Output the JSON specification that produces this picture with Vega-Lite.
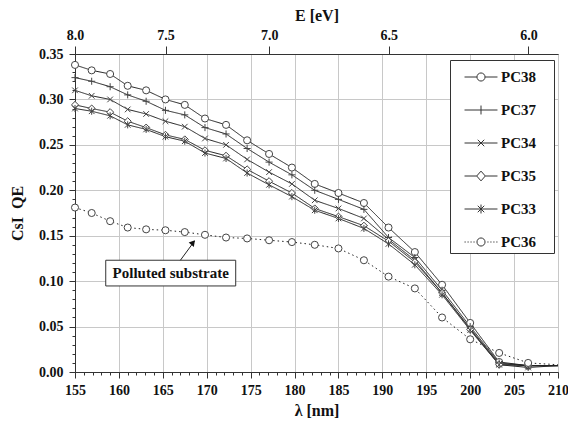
{
  "$schema": "https://vega.github.io/schema/vega-lite/v6.json",
  "width": 483,
  "height": 318,
  "autosize": "none",
  "padding": {"left": 75, "top": 54, "right": 10, "bottom": 58},
  "background": "white",
  "config": {
    "font": "Liberation Serif",
    "view": {"stroke": "#333", "strokeWidth": 1},
    "axis": {
      "labelFont": "Liberation Serif", "labelFontWeight": "bold", "labelFontSize": 14, "labelColor": "#111",
      "titleFont": "Liberation Serif", "titleFontWeight": "bold", "titleFontSize": 16, "titleColor": "#111",
      "domainColor": "#333", "tickColor": "#333", "gridColor": "#c8c8c8", "gridWidth": 1, "labelFlush": false
    }
  },
  "datasets": {
    "qe": [
      {"s":"PC38","l":155.0,"q":0.338},{"s":"PC38","l":156.9,"q":0.332},{"s":"PC38","l":159.0,"q":0.328},{"s":"PC38","l":161.0,"q":0.315},{"s":"PC38","l":163.1,"q":0.310},{"s":"PC38","l":165.3,"q":0.300},{"s":"PC38","l":167.5,"q":0.294},{"s":"PC38","l":169.8,"q":0.279},{"s":"PC38","l":172.2,"q":0.272},{"s":"PC38","l":174.6,"q":0.255},{"s":"PC38","l":177.1,"q":0.240},{"s":"PC38","l":179.7,"q":0.225},{"s":"PC38","l":182.3,"q":0.207},{"s":"PC38","l":185.0,"q":0.197},{"s":"PC38","l":187.9,"q":0.186},{"s":"PC38","l":190.7,"q":0.159},{"s":"PC38","l":193.7,"q":0.132},{"s":"PC38","l":196.8,"q":0.096},{"s":"PC38","l":200.0,"q":0.054},{"s":"PC38","l":203.3,"q":0.011},{"s":"PC38","l":206.6,"q":0.007},{"s":"PC38","l":210.0,"q":0.007},
      {"s":"PC37","l":155.0,"q":0.324},{"s":"PC37","l":156.9,"q":0.320},{"s":"PC37","l":159.0,"q":0.314},{"s":"PC37","l":161.0,"q":0.305},{"s":"PC37","l":163.1,"q":0.298},{"s":"PC37","l":165.3,"q":0.288},{"s":"PC37","l":167.5,"q":0.283},{"s":"PC37","l":169.8,"q":0.269},{"s":"PC37","l":172.2,"q":0.262},{"s":"PC37","l":174.6,"q":0.246},{"s":"PC37","l":177.1,"q":0.231},{"s":"PC37","l":179.7,"q":0.217},{"s":"PC37","l":182.3,"q":0.200},{"s":"PC37","l":185.0,"q":0.190},{"s":"PC37","l":187.9,"q":0.179},{"s":"PC37","l":190.7,"q":0.148},{"s":"PC37","l":193.7,"q":0.126},{"s":"PC37","l":196.8,"q":0.090},{"s":"PC37","l":200.0,"q":0.050},{"s":"PC37","l":203.3,"q":0.010},{"s":"PC37","l":206.6,"q":0.007},{"s":"PC37","l":210.0,"q":0.007},
      {"s":"PC34","l":155.0,"q":0.310},{"s":"PC34","l":156.9,"q":0.304},{"s":"PC34","l":159.0,"q":0.300},{"s":"PC34","l":161.0,"q":0.289},{"s":"PC34","l":163.1,"q":0.284},{"s":"PC34","l":165.3,"q":0.276},{"s":"PC34","l":167.5,"q":0.270},{"s":"PC34","l":169.8,"q":0.257},{"s":"PC34","l":172.2,"q":0.250},{"s":"PC34","l":174.6,"q":0.234},{"s":"PC34","l":177.1,"q":0.220},{"s":"PC34","l":179.7,"q":0.207},{"s":"PC34","l":182.3,"q":0.189},{"s":"PC34","l":185.0,"q":0.180},{"s":"PC34","l":187.9,"q":0.169},{"s":"PC34","l":190.7,"q":0.146},{"s":"PC34","l":193.7,"q":0.123},{"s":"PC34","l":196.8,"q":0.087},{"s":"PC34","l":200.0,"q":0.048},{"s":"PC34","l":203.3,"q":0.009},{"s":"PC34","l":206.6,"q":0.007},{"s":"PC34","l":210.0,"q":0.007},
      {"s":"PC35","l":155.0,"q":0.294},{"s":"PC35","l":156.9,"q":0.290},{"s":"PC35","l":159.0,"q":0.286},{"s":"PC35","l":161.0,"q":0.276},{"s":"PC35","l":163.1,"q":0.269},{"s":"PC35","l":165.3,"q":0.261},{"s":"PC35","l":167.5,"q":0.256},{"s":"PC35","l":169.8,"q":0.244},{"s":"PC35","l":172.2,"q":0.238},{"s":"PC35","l":174.6,"q":0.223},{"s":"PC35","l":177.1,"q":0.210},{"s":"PC35","l":179.7,"q":0.197},{"s":"PC35","l":182.3,"q":0.180},{"s":"PC35","l":185.0,"q":0.171},{"s":"PC35","l":187.9,"q":0.161},{"s":"PC35","l":190.7,"q":0.144},{"s":"PC35","l":193.7,"q":0.121},{"s":"PC35","l":196.8,"q":0.087},{"s":"PC35","l":200.0,"q":0.047},{"s":"PC35","l":203.3,"q":0.008},{"s":"PC35","l":206.6,"q":0.007},{"s":"PC35","l":210.0,"q":0.007},
      {"s":"PC33","l":155.0,"q":0.290},{"s":"PC33","l":156.9,"q":0.287},{"s":"PC33","l":159.0,"q":0.282},{"s":"PC33","l":161.0,"q":0.272},{"s":"PC33","l":163.1,"q":0.267},{"s":"PC33","l":165.3,"q":0.259},{"s":"PC33","l":167.5,"q":0.254},{"s":"PC33","l":169.8,"q":0.241},{"s":"PC33","l":172.2,"q":0.235},{"s":"PC33","l":174.6,"q":0.219},{"s":"PC33","l":177.1,"q":0.206},{"s":"PC33","l":179.7,"q":0.193},{"s":"PC33","l":182.3,"q":0.178},{"s":"PC33","l":185.0,"q":0.169},{"s":"PC33","l":187.9,"q":0.158},{"s":"PC33","l":190.7,"q":0.141},{"s":"PC33","l":193.7,"q":0.118},{"s":"PC33","l":196.8,"q":0.085},{"s":"PC33","l":200.0,"q":0.046},{"s":"PC33","l":203.3,"q":0.008},{"s":"PC33","l":206.6,"q":0.005},{"s":"PC33","l":210.0,"q":0.007},
      {"s":"PC36","l":155.0,"q":0.181},{"s":"PC36","l":156.9,"q":0.175},{"s":"PC36","l":159.0,"q":0.166},{"s":"PC36","l":161.0,"q":0.159},{"s":"PC36","l":163.1,"q":0.157},{"s":"PC36","l":165.3,"q":0.156},{"s":"PC36","l":167.5,"q":0.154},{"s":"PC36","l":169.8,"q":0.151},{"s":"PC36","l":172.2,"q":0.148},{"s":"PC36","l":174.6,"q":0.147},{"s":"PC36","l":177.1,"q":0.145},{"s":"PC36","l":179.7,"q":0.143},{"s":"PC36","l":182.3,"q":0.140},{"s":"PC36","l":185.0,"q":0.136},{"s":"PC36","l":187.9,"q":0.123},{"s":"PC36","l":190.7,"q":0.105},{"s":"PC36","l":193.7,"q":0.092},{"s":"PC36","l":196.8,"q":0.060},{"s":"PC36","l":200.0,"q":0.036},{"s":"PC36","l":203.3,"q":0.021},{"s":"PC36","l":206.6,"q":0.010},{"s":"PC36","l":210.0,"q":0.008}
    ],
    "note": [{"l1": 158.5, "l2": 173.3, "q1": 0.0947, "q2": 0.123, "lc": 165.9, "qc": 0.1085, "t": "Polluted substrate"}],
    "arrow": [{"l": 167.0, "q": 0.123, "l2": 168.6, "q2": 0.144, "lh": 168.45, "qh": 0.1425}]
  },
  "layer": [
    {
      "data": {"name": "qe"},
      "mark": {"type": "line", "strokeWidth": 1, "color": "#222"},
      "encoding": {
        "x": {"field": "l", "type": "quantitative", "scale": {"domain": [155, 210], "nice": false, "zero": false},
          "axis": {"orient": "bottom", "values": [155,160,165,170,175,180,185,190,195,200,205,210], "grid": true, "tickSize": 6, "labelPadding": 5, "title": "λ [nm]", "titlePadding": 5, "domain": true}},
        "y": {"field": "q", "type": "quantitative", "scale": {"domain": [0, 0.35], "nice": false, "zero": false},
          "axis": {"orient": "left", "values": [0,0.05,0.1,0.15,0.2,0.25,0.3,0.35], "format": ".2f", "grid": true, "tickSize": 6, "labelPadding": 6, "title": "CsI\u00a0\u00a0QE", "titlePadding": 13}},
        "detail": {"field": "s", "type": "nominal"},
        "strokeDash": {"field": "s", "type": "nominal", "legend": null,
          "scale": {"domain": ["PC38","PC37","PC34","PC35","PC33","PC36"], "range": [[1,0],[1,0],[1,0],[1,0],[1,0],[1.5,3]]}}
      }
    },
    {
      "data": {"name": "qe"},
      "transform": [{"filter": "datum.l < 209"}],
      "mark": {"type": "point", "filled": true, "fill": "white", "stroke": "#444", "strokeWidth": 1, "size": 50, "opacity": 1},
      "encoding": {
        "x": {"field": "l", "type": "quantitative", "scale": {"domain": [155, 210], "nice": false, "zero": false},
          "axis": {"orient": "top", "values": [155, 165.31, 177.12, 190.74, 206.64], "grid": false, "tickSize": 8, "labelPadding": 4, "title": "E [eV]", "titlePadding": 5,
            "labelExpr": "datum.value < 160 ? '8.0' : datum.value < 170 ? '7.5' : datum.value < 185 ? '7.0' : datum.value < 200 ? '6.5' : '6.0'"}},
        "y": {"field": "q", "type": "quantitative", "scale": {"domain": [0, 0.35], "nice": false, "zero": false}, "axis": null},
        "shape": {"field": "s", "type": "nominal", "legend": null,
          "scale": {"domain": ["PC38","PC37","PC34","PC35","PC33","PC36"],
            "range": ["circle", "M-1,0H1M0,-1V1", "M-0.8,-0.8L0.8,0.8M-0.8,0.8L0.8,-0.8", "diamond", "M-0.8,-0.8L0.8,0.8M-0.8,0.8L0.8,-0.8M0,-1V1", "circle"]}}
      }
    },
    {
      "data": {"name": "qe"},
      "transform": [{"filter": "datum.l > 1000"}],
      "mark": {"type": "point", "filled": false, "stroke": "#333", "strokeWidth": 1, "size": 729, "opacity": 1},
      "encoding": {
        "x": {"field": "l", "type": "quantitative", "scale": {"domain": [155, 210], "nice": false, "zero": false},
          "axis": {"orient": "bottom", "values": [156,157,158,159,161,162,163,164,166,167,168,169,171,172,173,174,176,177,178,179,181,182,183,184,186,187,188,189,191,192,193,194,196,197,198,199,201,202,203,204,206,207,208,209],
            "labels": false, "grid": false, "domain": false, "tickSize": 3, "title": null}},
        "y": {"field": "q", "type": "quantitative", "scale": {"domain": [0, 0.35], "nice": false, "zero": false},
          "axis": {"orient": "left", "values": [0.01,0.02,0.03,0.04,0.06,0.07,0.08,0.09,0.11,0.12,0.13,0.14,0.16,0.17,0.18,0.19,0.21,0.22,0.23,0.24,0.26,0.27,0.28,0.29,0.31,0.32,0.33,0.34],
            "labels": false, "grid": false, "domain": false, "tickSize": 3, "title": null}},
        "shape": {"field": "s", "type": "nominal",
          "scale": {"domain": ["PC38","PC37","PC34","PC35","PC33","PC36"],
            "range": [
              "M-1.22,0H-0.3M0.3,0H1.22M0.3,0A0.3,0.3,0,1,1,-0.3,0A0.3,0.3,0,1,1,0.3,0Z",
              "M-1.22,0H1.22M0,-0.33V0.33",
              "M-1.22,0H1.22M-0.24,-0.24L0.24,0.24M-0.24,0.24L0.24,-0.24",
              "M-1.22,0H-0.32M0.32,0H1.22M-0.32,0L0,-0.36L0.32,0L0,0.36Z",
              "M-1.22,0H1.22M-0.24,-0.24L0.24,0.24M-0.24,0.24L0.24,-0.24M0,-0.33V0.33",
              "M-1.22,0H-1.13M-1.0,0H-0.91M-0.78,0H-0.69M-0.56,0H-0.47M0.47,0H0.56M0.69,0H0.78M0.91,0H1.0M1.13,0H1.22M0.3,0A0.3,0.3,0,1,1,-0.3,0A0.3,0.3,0,1,1,0.3,0Z"
            ]},
          "legend": {
            "title": null, "orient": "none", "legendX": 375, "legendY": 6,
            "padding": 3, "rowPadding": 11, "symbolSize": 729, "symbolOffset": 14, "labelOffset": 6,
            "symbolFillColor": "white", "symbolStrokeColor": "#333", "symbolStrokeWidth": 1,
            "labelFont": "Liberation Serif", "labelFontWeight": "bold", "labelFontSize": 15, "labelColor": "#111",
            "labelExpr": "datum.label + '\u00a0\u00a0\u00a0\u00a0\u200b'",
            "strokeColor": "#333", "fillColor": "white",
            "encode": {"symbols": {"update": {"stroke": {"value": "#333"}, "fill": {"value": "white"}, "strokeWidth": {"value": 1}, "opacity": {"value": 1}, "size": {"value": 729}}}}
          }
        }
      }
    },
    {
      "data": {"name": "note"},
      "mark": {"type": "rect", "fill": "white", "stroke": "#333", "strokeWidth": 1},
      "encoding": {
        "x": {"field": "l1", "type": "quantitative", "scale": {"domain": [155, 210], "nice": false, "zero": false}, "axis": null},
        "x2": {"field": "l2"},
        "y": {"field": "q1", "type": "quantitative", "scale": {"domain": [0, 0.35], "nice": false, "zero": false}, "axis": null},
        "y2": {"field": "q2"}
      }
    },
    {
      "data": {"name": "note"},
      "mark": {"type": "text", "font": "Liberation Serif", "fontWeight": "bold", "fontSize": 15, "color": "#111", "align": "center", "baseline": "middle"},
      "encoding": {
        "x": {"field": "lc", "type": "quantitative", "scale": {"domain": [155, 210], "nice": false, "zero": false}, "axis": null},
        "y": {"field": "qc", "type": "quantitative", "scale": {"domain": [0, 0.35], "nice": false, "zero": false}, "axis": null},
        "text": {"field": "t"}
      }
    },
    {
      "data": {"name": "arrow"},
      "mark": {"type": "rule", "color": "#222", "strokeWidth": 1},
      "encoding": {
        "x": {"field": "l", "type": "quantitative", "scale": {"domain": [155, 210], "nice": false, "zero": false}, "axis": null},
        "y": {"field": "q", "type": "quantitative", "scale": {"domain": [0, 0.35], "nice": false, "zero": false}, "axis": null},
        "x2": {"field": "l2"},
        "y2": {"field": "q2"}
      }
    },
    {
      "data": {"name": "arrow"},
      "mark": {"type": "point", "shape": "triangle-up", "filled": true, "color": "#111", "size": 45, "angle": 40, "opacity": 1},
      "encoding": {
        "x": {"field": "lh", "type": "quantitative", "scale": {"domain": [155, 210], "nice": false, "zero": false}, "axis": null},
        "y": {"field": "qh", "type": "quantitative", "scale": {"domain": [0, 0.35], "nice": false, "zero": false}, "axis": null}
      }
    }
  ],
  "resolve": {
    "scale": {"shape": "independent", "strokeDash": "independent"},
    "axis": {"x": "independent", "y": "independent"}
  }
}
